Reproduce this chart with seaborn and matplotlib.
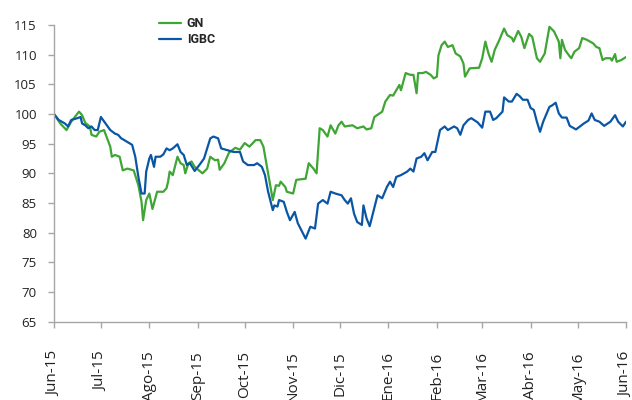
import pandas as pd
import seaborn as sns
import matplotlib.pyplot as plt

# days since 01-Jun-2015
dias_gn = [0, 4, 8, 11, 16, 18, 20, 23, 24, 27, 29, 32, 34, 36, 37, 39, 42, 44, 47, 51,
           54, 56, 57, 59, 61, 63, 66, 70, 72, 73, 74, 76, 79, 81, 83, 84, 86, 88, 90, 95,
           98, 100, 103, 105, 106, 109, 112, 116, 119, 122, 125, 129, 132, 134, 136, 138, 140, 142, 144, 145,
           148, 149, 153, 155, 161, 163, 166, 168, 170, 172, 175, 177, 180, 182, 184, 186, 191, 194, 198, 200,
           203, 205, 210, 212, 215, 217, 219, 221, 222, 225, 228, 230, 232, 233, 236, 238, 241, 243, 245, 246,
           248, 250, 252, 255, 257, 260, 262, 263, 266, 272, 274, 276, 278, 280, 282, 285, 288, 290, 293, 294,
           297, 299, 301, 304, 306, 309, 311, 314, 317, 320, 323, 324, 325, 327, 330, 331, 333, 336, 338, 341,
           345, 347, 349, 351, 353, 356, 357, 359, 360, 363, 366]
gn = [100.0, 98.4, 97.3, 98.7, 100.4, 99.8, 98.5, 97.9, 96.5, 96.2, 97.0, 97.3, 95.9, 94.5, 92.8, 93.1, 92.8, 90.5, 90.8, 90.5,
      88.0, 85.2, 82.1, 85.5, 86.6, 84.0, 86.9, 86.9, 87.5, 88.6, 90.3, 89.7, 92.8, 91.7, 91.4, 90.0, 91.7, 92.0, 91.1, 90.0,
      90.8, 92.8, 92.2, 92.3, 90.6, 91.7, 93.5, 94.3, 94.0, 95.1, 94.5, 95.6, 95.6, 94.5, 91.5, 88.6, 85.5, 88.0, 87.9, 88.6,
      87.7, 86.9, 86.6, 88.9, 89.1, 91.7, 90.8, 90.0, 97.6, 97.3, 96.2, 98.1, 96.7, 98.1, 98.7, 97.9, 98.1, 97.6, 97.9, 97.4,
      97.6, 99.5, 100.4, 102.1, 103.2, 103.1, 104.0, 104.9, 104.0, 106.9, 106.6, 106.6, 103.5, 106.9, 106.9, 107.1, 106.6, 106.0, 106.3, 109.9,
      111.6, 112.2, 111.3, 111.6, 110.2, 109.7, 108.5, 106.3, 107.7, 107.8, 109.4, 112.2, 110.2, 108.8, 110.8, 112.5, 114.4, 113.3, 112.8, 112.2,
      114.0, 113.0, 111.1, 113.5, 113.0, 109.4, 108.8, 110.2, 114.7, 113.9, 112.2, 109.4, 112.5, 110.8, 109.7, 109.4, 110.5, 111.1, 112.8, 112.5,
      111.9, 111.3, 111.1, 109.1, 109.4, 109.4, 109.0, 110.1, 108.8, 109.1, 109.6]

dias_igbc = [0, 3, 5, 7, 9, 11, 15, 17, 18, 20, 22, 24, 26, 28, 30, 33, 36, 39, 41, 43,
             45, 50, 52, 54, 56, 58, 59, 61, 62, 64, 65, 68, 70, 72, 74, 76, 79, 81, 83, 85,
             87, 90, 93, 96, 100, 102, 105, 107, 111, 115, 119, 121, 124, 128, 130, 133, 135, 137, 140, 141,
             143, 144, 147, 149, 151, 154, 156, 161, 164, 167, 169, 172, 175, 177, 180, 184, 186, 188, 190, 192,
             194, 197, 198, 200, 202, 204, 207, 210, 213, 215, 217, 219, 222, 226, 228, 230, 232, 235, 237, 239,
             242, 244, 247, 250, 252, 256, 258, 260, 262, 265, 267, 271, 274, 276, 279, 281, 283, 287, 288, 291,
             293, 296, 298, 300, 303, 305, 307, 309, 311, 313, 317, 319, 321, 323, 325, 328, 330, 334, 339, 342,
             344, 346, 349, 352, 356, 359, 361, 364, 366]
igbc = [100.0, 99.0, 98.7, 98.4, 97.9, 99.0, 99.3, 99.5, 98.4, 98.1, 97.6, 97.9, 97.3, 97.3, 99.5, 98.4, 97.3, 96.7, 96.5, 95.9,
        95.6, 94.8, 92.8, 89.4, 86.6, 86.6, 90.3, 92.5, 93.1, 91.1, 92.8, 92.8, 93.2, 94.2, 93.9, 94.2, 94.9, 93.6, 93.1, 91.4,
        91.7, 90.4, 91.4, 92.5, 95.9, 96.2, 95.9, 94.2, 93.9, 93.6, 93.6, 92.0, 91.4, 91.4, 91.7, 91.1, 89.7, 86.9, 83.8, 84.6,
        84.4, 85.5, 85.2, 83.5, 82.1, 83.5, 81.6, 79.0, 81.0, 80.7, 84.9, 85.5, 84.9, 86.9, 86.6, 86.3, 85.5, 84.9, 85.8, 83.2,
        81.8, 81.3, 84.6, 82.4, 81.1, 83.2, 86.3, 85.8, 87.7, 88.6, 87.7, 89.4, 89.7, 90.3, 90.8, 90.3, 92.5, 92.8, 93.4, 92.2,
        93.6, 93.6, 97.3, 97.9, 97.3, 97.9, 97.6, 96.5, 98.1, 99.0, 99.3, 98.6, 97.7, 100.4, 100.4, 99.0, 99.3, 100.4, 102.8, 102.1,
        102.1, 103.4, 103.0, 102.4, 102.4, 101.0, 100.7, 98.7, 97.0, 98.7, 101.2, 101.5, 101.9, 100.1, 99.4, 99.4, 98.0, 97.4, 98.4, 98.9,
        100.1, 99.0, 98.7, 98.0, 98.7, 99.8, 98.7, 97.9, 98.7]

meses = ["Jun-15", "Jul-15", "Ago-15", "Sep-15", "Oct-15", "Nov-15", "Dic-15",
         "Ene-16", "Feb-16", "Mar-16", "Abr-16", "May-16", "Jun-16"]
colores = {"GN": "#3fa535", "IGBC": "#0b56a4"}

inicio = pd.Timestamp("2015-06-01")
df = pd.concat([
    pd.DataFrame({"fecha": inicio + pd.to_timedelta(dias_gn, unit="D"), "valor": gn, "serie": "GN"}),
    pd.DataFrame({"fecha": inicio + pd.to_timedelta(dias_igbc, unit="D"), "valor": igbc, "serie": "IGBC"}),
])

sns.set_style("white")
plt.rcParams["font.family"] = ["Open Sans", "DejaVu Sans"]

fig = plt.figure(figsize=(6.32, 4.0), dpi=100)
ax = fig.add_axes([54 / 632, 1 - 321.7 / 400, 572 / 632, 296.7 / 400])

sns.lineplot(data=df, x="fecha", y="valor", hue="serie", palette=colores,
             linewidth=1.6, ax=ax, legend=False, estimator=None)

ax.set_xlim(inicio, pd.Timestamp("2016-06-01"))
ax.set_ylim(65, 115)
ax.set_yticks(range(65, 116, 5))
ax.set_xticks(pd.date_range(inicio, periods=13, freq="MS"))
ax.set_xticklabels(meses, rotation=90, va="top", ha="center")
ax.set_xlabel("")
ax.set_ylabel("")

for lado in ["top", "right"]:
    ax.spines[lado].set_visible(False)
for lado in ["left", "bottom"]:
    ax.spines[lado].set_color("#a6a6a6")
    ax.spines[lado].set_linewidth(1.0)
ax.tick_params(axis="y", length=4, width=1, color="#a6a6a6", pad=8.3, labelsize=9.5, labelcolor="#222222")
ax.tick_params(axis="x", length=4.3, width=1, color="#a6a6a6", pad=17, labelsize=11, labelcolor="#222222")
ax.tick_params(bottom=True, left=True)

fig.legend(handles=ax.lines[:2], labels=["GN", "IGBC"], loc="upper left",
           bbox_to_anchor=(153 / 632, 1 - 11 / 400), frameon=False,
           handlelength=1.7, handletextpad=0.5, labelspacing=0.25, borderpad=0,
           prop={"family": ["Liberation Sans Narrow", "Roboto"], "size": 9, "weight": "bold"})

fig.savefig("out.png", dpi=100)
